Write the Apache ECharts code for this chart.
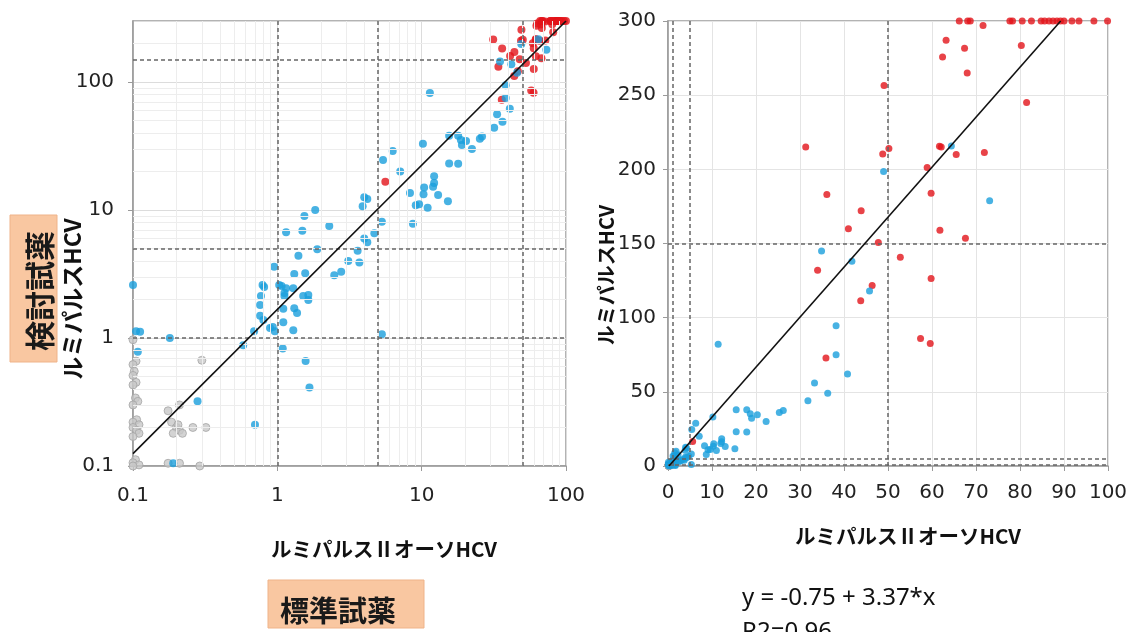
<!DOCTYPE html>
<html>
<head>
<meta charset="utf-8">
<script src="https://cdn.jsdelivr.net/npm/echarts@6/dist/echarts.min.js"></script>
<style>
  html, body { margin: 0; background: #fff; }
  #chart { width: 1136px; height: 632px; }
</style>
</head>
<body>
<div id="chart"></div>
<script>
// 同じデータを左(対数)と右(線形)の両方に描く
// 灰: 検出限界付近
const grayPts = [
  [0.1, 0.97], [0.105, 0.66], [0.1, 0.62], [0.102, 0.55], [0.1, 0.51], [0.105, 0.45], [0.1, 0.43],
  [0.104, 0.34], [0.108, 0.32], [0.1, 0.3], [0.106, 0.23], [0.1, 0.22], [0.11, 0.21], [0.1, 0.2],
  [0.106, 0.19], [0.11, 0.18], [0.1, 0.17], [0.104, 0.112], [0.1, 0.106], [0.11, 0.102], [0.1, 0.1],
  [0.175, 0.27], [0.185, 0.22], [0.2, 0.2], [0.21, 0.19], [0.22, 0.18], [0.19, 0.18], [0.205, 0.21],
  [0.21, 0.3], [0.26, 0.2], [0.32, 0.2], [0.3, 0.67], [0.175, 0.105], [0.21, 0.105], [0.29, 0.1]
];
// 青
const bluePts = [
  [0.1, 2.6], [0.105, 1.13], [0.112, 1.12], [0.108, 0.78], [0.18, 1.0], [0.28, 0.32], [0.19, 0.105],
  [0.7, 0.21], [0.58, 0.88],
  [0.79, 2.6], [0.81, 2.5], [0.77, 2.13], [0.76, 1.81], [0.76, 1.49], [0.8, 1.38], [0.69, 1.13],
  [0.89, 1.2], [0.93, 1.22], [0.96, 1.13], [0.95, 3.6],
  [1.03, 2.6], [1.07, 2.55], [1.15, 2.45], [1.29, 2.45], [1.12, 2.25], [1.12, 2.13], [1.1, 1.69],
  [1.1, 1.33], [1.09, 0.83], [1.31, 1.71], [1.37, 1.57], [1.51, 2.13], [1.64, 2.17], [1.64, 1.98],
  [1.29, 1.15], [1.57, 0.66], [1.67, 0.41],
  [1.15, 6.7], [1.49, 6.9], [1.54, 9.0], [1.83, 10], [1.89, 4.95], [1.4, 4.4], [1.31, 3.16],
  [1.56, 3.2], [2.29, 7.5], [2.48, 3.1], [2.77, 3.3], [3.1, 4.0], [3.6, 4.8], [3.7, 3.9],
  [4.0, 6.0], [4.2, 5.6], [4.7, 6.6], [5.3, 8.1], [3.9, 10.7], [4.0, 12.6], [4.2, 12.2], [5.3, 1.07],
  [5.4, 24.6], [6.3, 28.9], [7.1, 20], [8.3, 13.6], [9.1, 10.9], [8.7, 7.8],
  [10.3, 13.3], [10.4, 15], [12.2, 18.4], [12.2, 16.3], [12.0, 15.2], [13, 13.1], [11, 10.4],
  [15.2, 11.7], [9.6, 11.1], [10.2, 33], [11.4, 82],
  [15.5, 23.1], [17.9, 23], [15.5, 38], [17.9, 38], [18.7, 35.2], [19.0, 32.2], [20.3, 34.6],
  [22.3, 30], [25.3, 36], [26.2, 37.5],
  [31.8, 44], [33.3, 56], [36.3, 49], [40.8, 62], [38.2, 75], [38.2, 94.5],
  [34.9, 145], [41.8, 138], [45.8, 118], [49, 198.5], [64.4, 215.8], [73.1, 178.8]
];
// 赤
const redPts = [
  [5.6, 16.6], [35.9, 72.8], [31.3, 215], [36.1, 183], [34, 132], [41, 160], [43.9, 172],
  [47.8, 150.7], [52.8, 140.8], [46.4, 121.7], [43.8, 111.4], [57.4, 86], [59.6, 82.6],
  [59.8, 126.4], [61.8, 159], [67.6, 153.6], [48.8, 210.3], [50.2, 214], [49.1, 256.5],
  [61.7, 215.6], [62.1, 215], [65.5, 210], [71.9, 211.3], [58.9, 201.2], [59.8, 183.9],
  [62.4, 275.7], [63.2, 287], [67.4, 281.6], [68, 265], [71.6, 297], [80.3, 283.5], [81.5, 245],
  [66.2, 300], [68.1, 300], [68.7, 300], [77.7, 300], [78.3, 300], [80.5, 300], [82.6, 300],
  [84.8, 300], [85.6, 300], [86.6, 300], [87.5, 300], [88.4, 300], [89.2, 300], [90, 300],
  [91.8, 300], [93.4, 300], [96.8, 300], [99.9, 300]
];

// 回帰直線
const fitLog = [[0.1, 0.125], [100, 300]];
const fitIntercept = -0.75;
const fitSlope = 3.37;
const linYMax = 300;
const fitLin = [[-fitIntercept / fitSlope, 0], [(linYMax - fitIntercept) / fitSlope, linYMax]];

// 判定ライン
const cutX = [1, 5, 50];
const cutY = [1, 5, 150];

// 目盛
const logXTicks = ['0.1', '1', '10', '100'];
const logYTicks = ['0.1', '1', '10', '100'];
const decades = [0.1, 1, 10, 100];

const BLUE = '#1a9fdc';
const RED = '#e2141a';
const tickFont = { fontFamily: 'DejaVu Sans', fontSize: 20, color: '#222' };

// 対数グリッドの補助線 (2〜9)
const minorX = [];
const minorY = [];
decades.forEach(d => {
  for (let k = 2; k <= 9; k++) {
    if (d * k < 100) minorX.push(d * k);
    if (d * k < 300) minorY.push(d * k);
  }
});

function cutLines() {
  return cutX.map(v => ({ xAxis: v })).concat(cutY.map(v => ({ yAxis: v })));
}

function scatter(name, data, idx, color, size, extra) {
  return Object.assign({
    name: name,
    type: 'scatter',
    xAxisIndex: idx,
    yAxisIndex: idx,
    data: data,
    symbolSize: size,
    clip: false,
    z: 4,
    itemStyle: { color: color }
  }, extra || {});
}

const chart = echarts.init(document.getElementById('chart'));
chart.setOption({
  animation: false,
  backgroundColor: '#fff',
  grid: [
    { left: 133, right: 570, top: 21, bottom: 166, show: true, borderColor: '#9a9a9a', borderWidth: 1.5, outerBoundsMode: 'none' },
    { left: 668, right: 28, top: 21, bottom: 166, show: true, borderColor: '#9a9a9a', borderWidth: 1.5, outerBoundsMode: 'none' }
  ],
  xAxis: [
    {
      type: 'log', logBase: 10, min: 0.1, max: 100, gridIndex: 0,
      axisLine: { lineStyle: { color: '#9a9a9a', width: 1.5 } },
      axisTick: { length: 5, lineStyle: { color: '#9a9a9a' } },
      axisLabel: Object.assign({ margin: 20, formatter: (v, i) => logXTicks[i] }, tickFont),
      splitLine: { lineStyle: { color: '#dcdcdc' } }
    },
    {
      type: 'value', min: 0, max: 100, interval: 10, gridIndex: 1,
      axisLine: { lineStyle: { color: '#9a9a9a', width: 1.5 } },
      axisTick: { length: 5, lineStyle: { color: '#9a9a9a' } },
      axisLabel: Object.assign({ margin: 17 }, tickFont),
      splitLine: { lineStyle: { color: '#e4e4e4' } }
    }
  ],
  yAxis: [
    {
      type: 'log', logBase: 10, min: 0.1, max: 300, gridIndex: 0,
      axisLine: { lineStyle: { color: '#9a9a9a', width: 1.5 } },
      axisTick: { length: 5, lineStyle: { color: '#9a9a9a' } },
      axisLabel: Object.assign({ margin: 19, showMaxLabel: false, formatter: (v, i) => logYTicks[i] }, tickFont),
      splitLine: { lineStyle: { color: '#dcdcdc' } }
    },
    {
      type: 'value', min: 0, max: linYMax, interval: 50, gridIndex: 1,
      axisLine: { lineStyle: { color: '#9a9a9a', width: 1.5 } },
      axisTick: { length: 5, lineStyle: { color: '#9a9a9a' } },
      axisLabel: Object.assign({ margin: 12 }, tickFont),
      splitLine: { lineStyle: { color: '#e4e4e4' } }
    }
  ],
  series: [
    // 左: 補助グリッド
    {
      type: 'line', xAxisIndex: 0, yAxisIndex: 0, data: [], silent: true, z: 1,
      markLine: {
        silent: true, symbol: 'none', label: { show: false }, animation: false,
        lineStyle: { color: '#ededed', type: 'solid', width: 1 },
        data: minorX.map(v => ({ xAxis: v })).concat(minorY.map(v => ({ yAxis: v })))
      }
    },
    // 判定ライン
    {
      type: 'line', xAxisIndex: 0, yAxisIndex: 0, data: [], silent: true, z: 2,
      markLine: {
        silent: true, symbol: 'none', label: { show: false }, animation: false,
        lineStyle: { color: '#666', type: [4, 3], width: 1.5 },
        data: cutLines()
      }
    },
    {
      type: 'line', xAxisIndex: 1, yAxisIndex: 1, data: [], silent: true, z: 2,
      markLine: {
        silent: true, symbol: 'none', label: { show: false }, animation: false,
        lineStyle: { color: '#666', type: [4, 3], width: 1.5 },
        data: cutLines()
      }
    },
    scatter('gray', grayPts, 0, '#c8c8c8', 8, { itemStyle: { color: '#c8c8c8', borderColor: '#a5a5a5', borderWidth: 1 } }),
    scatter('red', redPts, 0, RED, 8),
    scatter('blue', bluePts, 0, BLUE, 8),
    scatter('gray', grayPts, 1, '#c8c8c8', 7, { itemStyle: { color: '#d0d0d0', borderColor: '#a5a5a5', borderWidth: 1 } }),
    scatter('red', redPts, 1, RED, 7),
    scatter('blue', bluePts, 1, BLUE, 7),
    {
      type: 'line', xAxisIndex: 0, yAxisIndex: 0, data: fitLog, showSymbol: false, z: 6,
      lineStyle: { color: '#111', width: 1.6 }
    },
    {
      type: 'line', xAxisIndex: 1, yAxisIndex: 1, data: fitLin, showSymbol: false, z: 6,
      lineStyle: { color: '#111', width: 1.6 }
    }
  ],
  graphic: [
    { type: 'rect', shape: { x: 10, y: 215, width: 47, height: 147 }, style: { fill: '#f9c7a1', stroke: '#efb389', lineWidth: 1 } },
    { type: 'text', x: 40, y: 291, rotation: Math.PI / 2,
      style: { text: '検討試薬', font: 'bold 30px "Noto Sans CJK JP"', fill: '#1a1a1a', textAlign: 'center', textVerticalAlign: 'middle' } },
    { type: 'text', x: 72, y: 299, rotation: Math.PI / 2,
      style: { text: 'ルミパルスHCV', font: 'bold 23px "Noto Sans CJK JP"', fill: '#111', textAlign: 'center', textVerticalAlign: 'middle' } },
    { type: 'text', x: 606, y: 275, rotation: Math.PI / 2,
      style: { text: 'ルミパルスHCV', font: 'bold 20px "Noto Sans CJK JP"', fill: '#111', textAlign: 'center', textVerticalAlign: 'middle' } },
    { type: 'text', x: 384, y: 549,
      style: { text: 'ルミパルスⅡオーソHCV', font: 'bold 20.5px "Noto Sans CJK JP"', fill: '#111', textAlign: 'center', textVerticalAlign: 'middle' } },
    { type: 'text', x: 908, y: 536,
      style: { text: 'ルミパルスⅡオーソHCV', font: 'bold 20.5px "Noto Sans CJK JP"', fill: '#111', textAlign: 'center', textVerticalAlign: 'middle' } },
    { type: 'rect', shape: { x: 268, y: 580, width: 156, height: 48 }, style: { fill: '#f9c7a1', stroke: '#efb389', lineWidth: 1 } },
    { type: 'text', x: 280, y: 611,
      style: { text: '標準試薬', font: 'bold 29px "Noto Sans CJK JP"', fill: '#1a1a1a', textAlign: 'left', textVerticalAlign: 'middle' } },
    { type: 'text', x: 742, y: 598,
      style: { text: 'y = -0.75 + 3.37*x', font: '24px "Noto Sans"', fill: '#111', textAlign: 'left', textVerticalAlign: 'middle' } },
    { type: 'text', x: 742, y: 632,
      style: { text: 'R2=0.96', font: '24px "Noto Sans"', fill: '#111', textAlign: 'left', textVerticalAlign: 'middle' } }
  ]
});
</script>
</body>
</html>
